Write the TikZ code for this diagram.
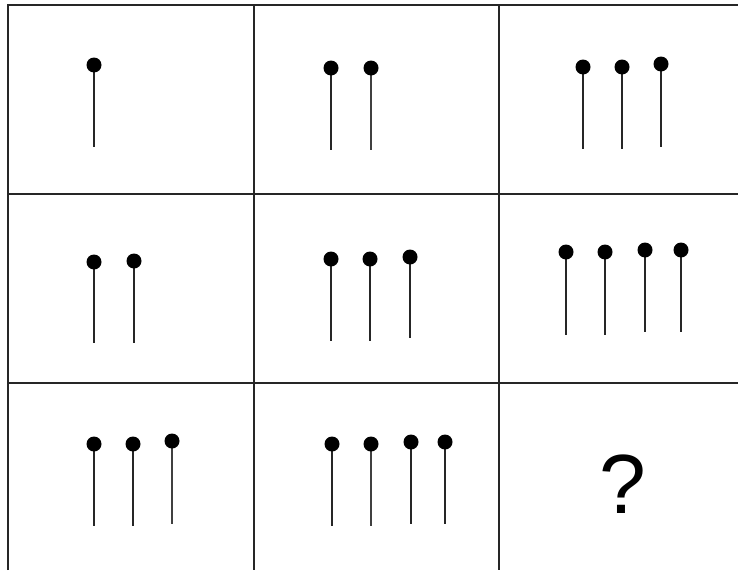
\documentclass[tikz,border=0pt]{standalone}
\usepackage{fontspec}
\setmainfont{Liberation Sans}
\begin{document}
\begin{tikzpicture}[x=1pt,y=-1pt,
  grid/.style={line width=2pt,draw=black!85},
  stem/.style={line width=2pt,draw=black!85},
  thinstem/.style={line width=1.2pt,draw=black!75},
  head/.style={circle,fill=black,inner sep=0pt,minimum size=15pt}]
\useasboundingbox (0,0) rectangle (738,570);
% grid
\draw[grid] (8,570) -- (8,5) -- (738,5);
\draw[grid] (8,194) -- (738,194);
\draw[grid] (8,383) -- (738,383);
\draw[grid] (254,5) -- (254,570);
\draw[grid] (499,5) -- (499,570);
% pins: name, x, ytop, ybottom, style
\foreach \n/\x/\yt/\yb/\s in {
  a1/94/65/147/stem,
  b1/331/68/150/stem, b2/371/68/150/thinstem,
  c1/583/67/149/stem, c2/622/67/149/stem, c3/661/64/147/stem,
  d1/94/262/343/stem, d2/134/261/343/stem,
  e1/331/259/341/stem, e2/370/259/341/stem, e3/410/257/338/stem,
  f1/566/252/335/stem, f2/605/252/335/stem, f3/645/250/332/stem, f4/681/250/332/stem,
  g1/94/444/526/stem, g2/133/444/526/stem, g3/172/441/524/thinstem,
  h1/332/444/526/stem, h2/371/444/526/thinstem, h3/411/442/524/stem, h4/445/442/524/stem}
{
  \coordinate (\n-end) at (\x,\yb);
  \draw[\s] (\x,\yt) -- (\n-end);
  \node[head] (\n) at (\x,\yt) {};
}
\node (q) at (623,484) {\fontsize{84}{84}\selectfont ?};
\end{tikzpicture}
\end{document}
